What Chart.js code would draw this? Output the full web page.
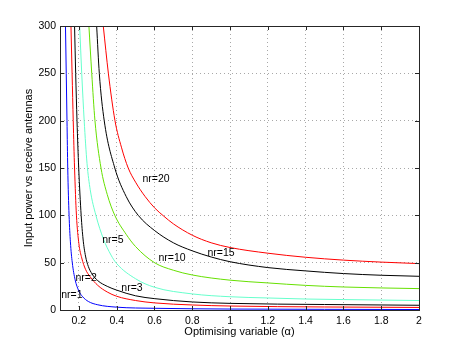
<!DOCTYPE html>
<html lang="en">
<head>
    <meta charset="UTF-8">
    <title>Input power vs receive antennas</title>
    <script src="https://cdn.jsdelivr.net/npm/chart.js"></script>
    <style>
        body { margin: 0; background: #fff; }
        #wrap { width: 463px; height: 349px; }
    </style>
</head>
<body>
    <div id="wrap"><canvas id="powerChart" width="463" height="349"></canvas></div>

    <script>
        // values (alpha, power)
        const alphaNr1 = [0.129, 0.133, 0.137, 0.141, 0.148, 0.155, 0.165, 0.18, 0.2, 0.22, 0.25, 0.3, 0.4, 0.6, 0.8, 1, 1.5, 2];
        const powerNr1 = [300, 250, 200, 150, 100, 72, 50, 32, 20, 14, 9, 5.5, 3, 1.8, 1.3, 1, 0.7, 0.5];

        const alphaNr2 = [0.158, 0.164, 0.170, 0.177, 0.187, 0.2, 0.215, 0.235, 0.26, 0.3, 0.35, 0.4, 0.5, 0.6, 0.8, 1, 1.5, 2];
        const powerNr2 = [300, 250, 200, 150, 100, 70, 55, 43, 35, 26, 19, 14.5, 10, 7.5, 5.3, 4.2, 3.2, 2.7];

        const alphaNr3 = [0.177, 0.183, 0.190, 0.199, 0.212, 0.222, 0.235, 0.25, 0.27, 0.3, 0.35, 0.4, 0.5, 0.6, 0.8, 1, 1.5, 2];
        const powerNr3 = [300, 250, 200, 150, 100, 75, 57, 46, 38, 31, 25, 21, 15, 12, 8.5, 7, 5.8, 5];

        const alphaNr5 = [0.204, 0.215, 0.228, 0.243, 0.26, 0.29, 0.33, 0.37, 0.4, 0.5, 0.6, 0.8, 1, 1.2, 1.4, 1.6, 1.8, 2];
        const powerNr5 = [300, 250, 200, 155, 127, 100, 75, 58, 49, 33, 24, 17, 14, 12.7, 11.6, 11, 10.5, 10];

        const alphaNr10 = [0.253, 0.268, 0.285, 0.317, 0.35, 0.39, 0.45, 0.5, 0.6, 0.7, 0.8, 1, 1.2, 1.4, 1.6, 1.8, 2];
        const powerNr10 = [300, 250, 200, 150, 122, 100, 80, 67, 50, 42, 37, 31.5, 28.6, 26, 24.3, 23.3, 22.6];

        const alphaNr15 = [0.294, 0.308, 0.334, 0.39, 0.45, 0.514, 0.6, 0.7, 0.8, 0.9, 1, 1.2, 1.4, 1.6, 1.8, 2];
        const powerNr15 = [300, 250, 200, 150, 120, 100, 84, 71, 62.5, 56, 51, 44.8, 41.3, 38.5, 36.7, 35.6];

        const alphaNr20 = [0.329, 0.356, 0.391, 0.425, 0.461, 0.5, 0.55, 0.6, 0.65, 0.7, 0.8, 0.9, 1, 1.2, 1.4, 1.6, 1.8, 2];
        const powerNr20 = [300, 250, 200, 172, 150, 135, 120, 108, 99, 91, 79, 71, 66, 60, 55.7, 52.7, 50.6, 49];

        const xTicks = [0.2, 0.4, 0.6, 0.8, 1, 1.2, 1.4, 1.6, 1.8, 2];
        const yTicks = [0, 50, 100, 150, 200, 250, 300];

        // curve labels, placed in data coordinates
        const curveNames = ['nr=1', 'nr=2', 'nr=3', 'nr=5', 'nr=10', 'nr=15', 'nr=20'];
        const labelAlpha = [0.163, 0.238, 0.481, 0.380, 0.693, 0.952, 0.608];
        const labelPower = [15.5, 33.5, 23, 73.7, 54.7, 60, 138.2];

        const FONT = '"Liberation Sans", Arial, Helvetica, sans-serif';

        function pts(xs, ys) {
            return xs.map((x, i) => ({ x: x, y: ys[i] }));
        }

        function series(xs, ys, color) {
            return {
                data: pts(xs, ys),
                borderColor: color,
                borderWidth: 1,
                pointRadius: 0,
                fill: false,
                cubicInterpolationMode: 'monotone'
            };
        }

        // MATLAB style box, inward ticks and the curve labels
        const boxPlugin = {
            id: 'box',
            afterDraw(chart) {
                const { ctx, chartArea: a, scales: { x, y } } = chart;
                ctx.save();
                ctx.strokeStyle = '#262626';
                ctx.lineWidth = 1;
                ctx.strokeRect(a.left + 0.5, a.top + 0.5, a.right - a.left, a.bottom - a.top);
                ctx.beginPath();
                xTicks.forEach(v => {
                    const px = Math.round(x.getPixelForValue(v)) + 0.5;
                    ctx.moveTo(px, a.bottom); ctx.lineTo(px, a.bottom - 4);
                    ctx.moveTo(px, a.top); ctx.lineTo(px, a.top + 4);
                });
                yTicks.forEach(v => {
                    const py = Math.round(y.getPixelForValue(v)) + 0.5;
                    ctx.moveTo(a.left, py); ctx.lineTo(a.left + 4, py);
                    ctx.moveTo(a.right, py); ctx.lineTo(a.right - 4, py);
                });
                ctx.stroke();

                ctx.font = '10.5px ' + FONT;
                ctx.fillStyle = '#000';
                ctx.textAlign = 'center';
                ctx.textBaseline = 'middle';
                curveNames.forEach((s, i) => {
                    ctx.fillText(s, x.getPixelForValue(labelAlpha[i]), y.getPixelForValue(labelPower[i]));
                });
                ctx.restore();
            }
        };

        const ctx = document.getElementById('powerChart').getContext('2d');
        const powerChart = new Chart(ctx, {
            type: 'line',
            data: {
                datasets: [
                    series(alphaNr1, powerNr1, '#0000ff'),
                    series(alphaNr2, powerNr2, '#ff0000'),
                    series(alphaNr3, powerNr3, '#000000'),
                    series(alphaNr5, powerNr5, '#66ffcc'),
                    series(alphaNr10, powerNr10, '#66e000'),
                    series(alphaNr15, powerNr15, '#000000'),
                    series(alphaNr20, powerNr20, '#ff0000')
                ]
            },
            options: {
                responsive: false,
                animation: false,
                layout: { padding: { top: 26, right: 44, bottom: 0, left: 0 } },
                plugins: { legend: { display: false }, tooltip: { enabled: false } },
                scales: {
                    x: {
                        type: 'linear',
                        min: 0.1,
                        max: 2,
                        afterBuildTicks: axis => { axis.ticks = xTicks.map(v => ({ value: v })); },
                        afterFit: axis => { axis.height = 39; },
                        grid: { color: '#a8a8a8', drawTicks: false },
                        border: { display: false, dash: [1, 3] },
                        ticks: {
                            padding: 5,
                            color: '#000',
                            font: { family: FONT, size: 10.5 },
                            maxRotation: 0,
                            callback: v => String(+v.toFixed(1))
                        },
                        title: {
                            display: true,
                            text: 'Optimising variable (\u03b1)',
                            color: '#000',
                            font: { family: FONT, size: 11 },
                            padding: { top: 0, bottom: 10 }
                        }
                    },
                    y: {
                        min: 0,
                        max: 300,
                        afterBuildTicks: axis => { axis.ticks = yTicks.map(v => ({ value: v })); },
                        afterFit: axis => { axis.width = 60; },
                        grid: { color: '#a8a8a8', drawTicks: false },
                        border: { display: false, dash: [1, 3] },
                        ticks: {
                            padding: 4,
                            color: '#000',
                            font: { family: FONT, size: 10.5 }
                        },
                        title: {
                            display: true,
                            text: 'Input power vs receive antennas',
                            color: '#000',
                            font: { family: FONT, size: 11 },
                            padding: { top: 22, bottom: 0 }
                        }
                    }
                }
            },
            plugins: [boxPlugin]
        });
    </script>
</body>
</html>
